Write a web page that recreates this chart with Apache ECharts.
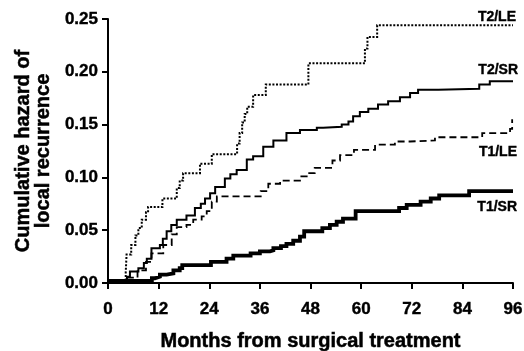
<!DOCTYPE html>
<html>
<head>
<meta charset="utf-8">
<script src="https://cdn.jsdelivr.net/npm/echarts@6/dist/echarts.min.js"></script>
<style>
html,body{margin:0;padding:0;background:#fff;}
#chart{width:524px;height:351px;}
</style>
</head>
<body>
<div id="chart"></div>
<script>
// Tick values
var xTicks = [0, 12, 24, 36, 48, 60, 72, 84, 96];
var yTicks = [0.00, 0.05, 0.10, 0.15, 0.20, 0.25];

// Series data: [month, cumulative hazard]
var t2le = [[0,0.002],[4.2,0.010],[4.4,0.027],[5.5,0.036],[6.5,0.045],[7.2,0.052],[8.0,0.060],[9.0,0.067],[9.5,0.072],[12.9,0.080],[16.3,0.090],[17.0,0.097],[17.8,0.104],[21.8,0.113],[24.6,0.122],[30.6,0.132],[31.2,0.142],[31.8,0.152],[32.4,0.160],[33.0,0.167],[34.4,0.178],[37.4,0.188],[47.5,0.208],[60.9,0.222],[61.5,0.233],[63.8,0.244],[96,0.244]];

var t2sr = [[0,0.002],[4.5,0.006],[5.2,0.011],[7.2,0.014],[8.5,0.019],[9.2,0.023],[10.3,0.033],[12.3,0.036],[13.0,0.042],[13.9,0.049],[15.0,0.055],[16.3,0.060],[18.6,0.064],[20.6,0.071],[22.0,0.075],[23.0,0.080],[24.2,0.085],[25.4,0.091],[27.7,0.099],[29.0,0.103],[30.5,0.107],[32.9,0.117],[34.4,0.120],[36.8,0.129],[39.2,0.135],[42.3,0.142],[45.5,0.145],[49.5,0.147],[51.0,0.148],[55.4,0.150],[57.0,0.153],[58.1,0.158],[59.7,0.162],[61.7,0.165],[64.0,0.169],[66.4,0.172],[69.2,0.176],[71.6,0.180],[73.5,0.183],[78.3,0.184],[88.0,0.188],[90.5,0.191],[96,0.191]];

var t1le = [[0,0.002],[4.5,0.005],[7.0,0.012],[9.0,0.020],[10.3,0.028],[13.1,0.036],[15.1,0.046],[16.3,0.053],[18.6,0.055],[20.2,0.060],[22.2,0.063],[23.4,0.068],[24.6,0.077],[25.8,0.082],[36.2,0.087],[38.0,0.094],[40.8,0.097],[45.5,0.101],[47.1,0.104],[49.0,0.109],[53.2,0.116],[55.0,0.121],[58.3,0.126],[63.3,0.131],[68.0,0.134],[71.6,0.135],[77.5,0.138],[88.7,0.142],[95.3,0.146],[95.8,0.155]];

var t1sr = [[0,0.002],[10.4,0.0045],[11.1,0.006],[12.3,0.008],[13.9,0.009],[15.5,0.012],[17.0,0.014],[17.6,0.017],[24.4,0.020],[28.1,0.023],[29.7,0.026],[33.8,0.028],[36.0,0.030],[38.4,0.031],[39.2,0.033],[41.0,0.035],[42.3,0.037],[43.9,0.040],[45.5,0.044],[46.5,0.049],[50.8,0.052],[52.6,0.055],[54.2,0.058],[55.7,0.061],[58.7,0.068],[69.0,0.071],[70.8,0.074],[74.1,0.077],[76.5,0.080],[78.5,0.083],[85.6,0.087],[96,0.087]];

var seriesNames = ['T2/LE', 'T2/SR', 'T1/LE', 'T1/SR'];

var FONT = '"Liberation Sans", Arial, sans-serif';
var chart = echarts.init(document.getElementById('chart'), null, {renderer: 'canvas'});

function stepSeries(name, data, width, type) {
  return {
    name: name, type: 'line', step: 'end', data: data, showSymbol: false, symbol: 'none',
    lineStyle: {color: '#000', width: width, type: type, cap: 'butt', join: 'miter'},
    silent: true, z: 3
  };
}

var labelStyle = {fill: '#000', font: 'bold 14px ' + FONT, textAlign: 'right', textVerticalAlign: 'middle',
  stroke: '#000', lineWidth: 0.4};

chart.setOption({
  animation: false,
  backgroundColor: '#fff',
  grid: {left: 108, right: 11, top: 19, bottom: 68, containLabel: false, outerBoundsMode: 'none'},
  xAxis: {
    type: 'value', min: xTicks[0], max: xTicks[xTicks.length - 1], interval: 12,
    name: 'Months from surgical treatment', nameLocation: 'middle', nameGap: 48,
    nameTextStyle: {color: '#000', fontFamily: FONT, fontWeight: 'bold', fontSize: 20,
      textBorderColor: '#000', textBorderWidth: 0.5},
    axisLine: {show: true, lineStyle: {color: '#000', width: 2}},
    axisTick: {show: true, length: 6, inside: false, lineStyle: {color: '#000', width: 2}},
    axisLabel: {color: '#000', fontFamily: FONT, fontWeight: 'bold', fontSize: 17, margin: 18,
      textBorderColor: '#000', textBorderWidth: 0.4},
    splitLine: {show: false}
  },
  yAxis: {
    type: 'value', min: yTicks[0], max: yTicks[yTicks.length - 1], interval: 0.05,
    name: 'Cumulative hazard of\nlocal recurrence', nameLocation: 'middle', nameGap: 54,
    nameTextStyle: {color: '#000', fontFamily: FONT, fontWeight: 'bold', fontSize: 20, lineHeight: 20,
      textBorderColor: '#000', textBorderWidth: 0.5},
    axisLine: {show: true, lineStyle: {color: '#000', width: 2}},
    axisTick: {show: true, length: 6, inside: false, lineStyle: {color: '#000', width: 2}},
    axisLabel: {color: '#000', fontFamily: FONT, fontWeight: 'bold', fontSize: 17, margin: 10,
      textBorderColor: '#000', textBorderWidth: 0.4,
      formatter: function (v) { return v.toFixed(2); }},
    splitLine: {show: false}
  },
  series: [
    stepSeries(seriesNames[0], t2le, 2, [2, 1.6]),
    stepSeries(seriesNames[1], t2sr, 2, 'solid'),
    stepSeries(seriesNames[2], t1le, 1.8, [7, 4]),
    stepSeries(seriesNames[3], t1sr, 3.8, 'solid')
  ],
  graphic: [
    {type: 'text', x: 516, y: 17, style: Object.assign({text: seriesNames[0]}, labelStyle)},
    {type: 'text', x: 518, y: 70, style: Object.assign({text: seriesNames[1]}, labelStyle)},
    {type: 'text', x: 517, y: 152, style: Object.assign({text: seriesNames[2]}, labelStyle)},
    {type: 'text', x: 517, y: 207, style: Object.assign({text: seriesNames[3]}, labelStyle)}
  ]
});
</script>
</body>
</html>
